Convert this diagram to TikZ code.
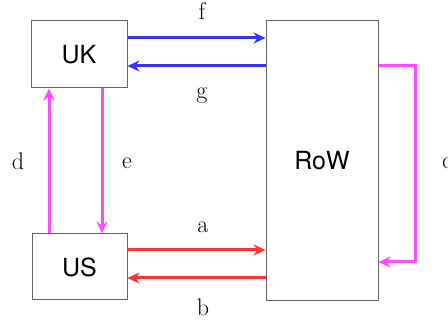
\documentclass[tikz,border=0pt]{standalone}
\usepackage{fontspec}
\newfontfamily\boxfont{TeX Gyre Heros}
\usetikzlibrary{arrows.meta}
\definecolor{fblue}{RGB}{51,51,255}
\definecolor{fred}{RGB}{255,51,51}
\definecolor{fmag}{RGB}{255,77,255}
\definecolor{bordergray}{RGB}{100,100,100}
\tikzset{
  box/.style={draw=bordergray, line width=1pt, inner sep=0pt, font=\boxfont\fontsize{25}{30}\selectfont},
  flow/.style={line width=3pt, -{Stealth[length=12pt,width=11pt,inset=4pt]}},
  lab/.style={font=\fontsize{24}{28}\selectfont, inner sep=0pt}
}
\begin{document}
\begin{tikzpicture}[x=1pt,y=-1pt]
\useasboundingbox (0,0) rectangle (448,326);
\node[box, minimum width=96pt, minimum height=67pt] (UK) at (79,54.5) {UK};
\node[box, minimum width=95pt, minimum height=66pt] (US) at (79.5,267) {US};
\node[box, minimum width=112pt, minimum height=280pt] (RoW) at (322,161) {RoW};

\draw[flow, fblue] (UK.east |- 0,38) -- (RoW.west |- 0,38);
\draw[flow, fblue] (RoW.west |- 0,66) -- (UK.east |- 0,66);
\draw[flow, fred] (US.east |- 0,250) -- (RoW.west |- 0,250);
\draw[flow, fred] (RoW.west |- 0,278) -- (US.east |- 0,278);
\draw[flow, fmag] (US.north -| 49,0) -- (UK.south -| 49,0);
\draw[flow, fmag] (UK.south -| 102,0) -- (US.north -| 102,0);
\coordinate (c1) at (415,66);
\coordinate (c2) at (415,262);
\draw[flow, fmag] (RoW.east |- c1) -- (c1) -- (c2) -- (RoW.east |- c2);

\node[lab] (lf) at (202,11) {f};
\node[lab] (lg) at (202,96) {g};
\node[lab] (la) at (203,227) {a};
\node[lab] (lb) at (203,307) {b};
\node[lab] (ld) at (18,161) {d};
\node[lab] (le) at (127,163) {e};
\node[lab] (lc) at (447,163) {c};
\end{tikzpicture}
\end{document}
